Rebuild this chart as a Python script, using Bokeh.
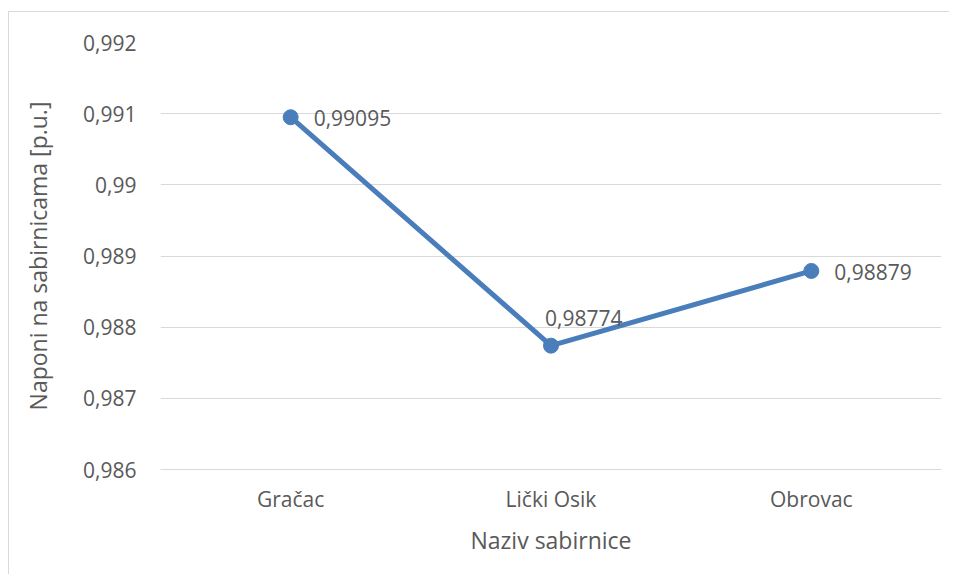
from bokeh.plotting import figure
from bokeh.models import (ColumnDataSource, FixedTicker, CustomJSTickFormatter, Range1d,
                          FactorRange, CDSView, IndexFilter)
from bokeh.core.properties import value
from bokeh.embed import file_html
from bokeh.resources import INLINE

categories = ["Gračac", "Lički Osik", "Obrovac"]
voltages = [0.99095, 0.98774, 0.98879]
y_ticks = [0.986, 0.987, 0.988, 0.989, 0.990, 0.991, 0.992]

FONT = "Open Sans"
TXT = "#595959"
BLUE = "#4a7ebb"
GRID = "#d9d9d9"

src = ColumnDataSource(dict(
    x=categories,
    y=voltages,
    label=[f"{v:.5f}".replace(".", ",") for v in voltages],
))

p = figure(x_range=FactorRange(*categories, range_padding=0),
           y_range=Range1d(0.986, 0.992),
           width=941, height=563, margin=(11, 0, 0, 8),
           output_backend="svg", toolbar_location=None,
           min_border_left=151, min_border_right=9,
           min_border_top=30, min_border_bottom=106)
p.styles = {"border-left": "1px solid #d9d9d9", "border-top": "1px solid #d9d9d9"}
p.outline_line_color = None

p.xgrid.grid_line_color = None
p.ygrid.grid_line_color = GRID
p.ygrid.grid_line_width = 1

p.yaxis.ticker = FixedTicker(ticks=y_ticks)
p.yaxis.formatter = CustomJSTickFormatter(
    code="return parseFloat(tick.toFixed(3)).toString().replace('.', ',');")
p.yaxis.axis_line_color = None
p.yaxis.major_tick_line_color = None
p.yaxis.minor_tick_line_color = None
p.yaxis.major_label_standoff = 18
p.yaxis.axis_label = "Naponi na sabirnicama [p.u.]"
p.yaxis.axis_label_standoff = 26

p.xaxis.axis_line_color = GRID
p.xaxis.major_tick_line_color = None
p.xaxis.minor_tick_line_color = None
p.xaxis.major_label_standoff = 9
p.xaxis.axis_label = "Naziv sabirnice"
p.xaxis.axis_label_standoff = 8

for ax in (p.xaxis[0], p.yaxis[0]):
    ax.major_label_text_font = FONT
    ax.major_label_text_font_size = "21px"
    ax.major_label_text_color = TXT
    ax.axis_label_text_font = FONT
    ax.axis_label_text_font_size = "23px"
    ax.axis_label_text_color = TXT
    ax.axis_label_text_font_style = "normal"

p.line(x="x", y="y", source=src, line_width=5, line_color=BLUE)
p.scatter(x="x", y="y", source=src, size=15, fill_color=BLUE, line_color=BLUE)

p.text(x="x", y="y", text="label", source=src, view=CDSView(filter=IndexFilter([0, 2])),
       x_offset=23, y_offset=1, text_align="left", text_baseline="middle",
       text_font=value(FONT), text_font_size="21px", text_color=TXT)
p.text(x="x", y="y", text="label", source=src, view=CDSView(filter=IndexFilter([1])),
       x_offset=-6, y_offset=-28, text_align="left", text_baseline="middle",
       text_font=value(FONT), text_font_size="21px", text_color=TXT)

open("out.html", "w").write(file_html(p, INLINE))
